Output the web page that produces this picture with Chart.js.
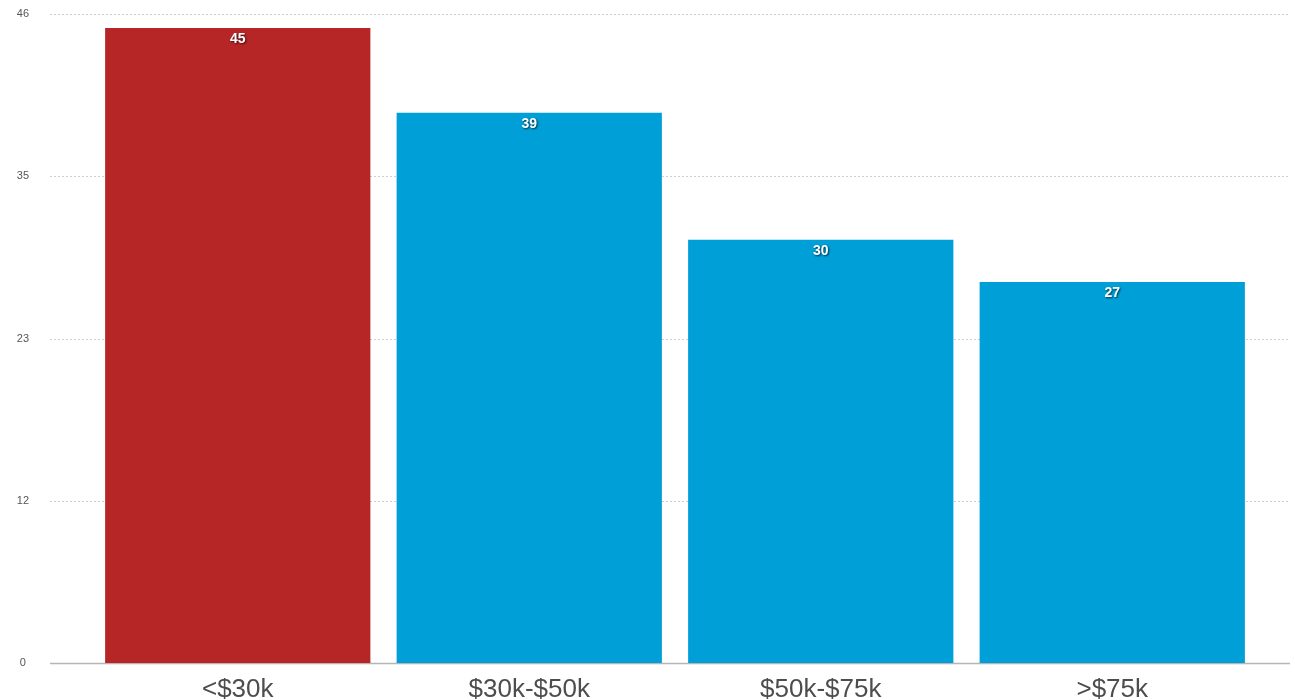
<!DOCTYPE html>
<html>
<head>
<meta charset="utf-8">
<script src="https://cdn.jsdelivr.net/npm/chart.js@4"></script>
<style>
  html, body { margin: 0; padding: 0; background: #fff; }
  #wrap { width: 1295px; height: 700px; position: relative; }
</style>
</head>
<body>
<div id="wrap"><canvas id="chart"></canvas></div>
<script>
// data
var categories = ['<$30k', '$30k-$50k', '$50k-$75k', '>$75k'];
var values = [45, 39, 30, 27];
var barColors = ['#B72626', '#009FD8', '#009FD8', '#009FD8'];
var yTicks = [0, 11.5, 23, 34.5, 46];
var yTickLabels = ['0', '12', '23', '35', '46'];

// dotted grid lines running the full width
var gridPlugin = {
  id: 'fullGrid',
  beforeDatasetsDraw: function(chart) {
    var c = chart.ctx;
    var y = chart.scales.y;
    c.save();
    yTicks.forEach(function(v) {
      var py = Math.round(y.getPixelForValue(v)) + 0.5;
      c.beginPath();
      if (v === 0) {
        c.setLineDash([]);
        c.strokeStyle = '#b5b5b5';
        c.lineWidth = 1.5;
      } else {
        c.setLineDash([2, 2]);
        c.strokeStyle = '#cfcfcf';
        c.lineWidth = 1;
      }
      c.moveTo(50, py);
      c.lineTo(1290, py);
      c.stroke();
    });
    c.restore();
  }
};

// value labels just inside the top of each bar
var valuePlugin = {
  id: 'valueLabels',
  afterDatasetsDraw: function(chart) {
    var c = chart.ctx;
    var meta = chart.getDatasetMeta(0);
    c.save();
    c.font = 'bold 14px "Liberation Sans", Arial, sans-serif';
    c.textAlign = 'center';
    c.textBaseline = 'middle';
    c.fillStyle = '#ffffff';
    c.shadowColor = 'rgba(0, 0, 0, 0.7)';
    c.shadowBlur = 2;
    c.shadowOffsetX = 1;
    c.shadowOffsetY = 1;
    meta.data.forEach(function(bar, i) {
      c.fillText(String(values[i]), bar.x, bar.y + 11);
    });
    c.restore();
  }
};

new Chart(document.getElementById('chart').getContext('2d'), {
  type: 'bar',
  data: {
    labels: categories,
    datasets: [{
      data: values,
      backgroundColor: barColors,
      borderWidth: 0,
      barPercentage: 0.91,
      categoryPercentage: 1.0
    }]
  },
  options: {
    responsive: true,
    maintainAspectRatio: false,
    animation: false,
    layout: { padding: { top: 14, right: 37, bottom: 1, left: 0 } },
    plugins: {
      legend: { display: false },
      tooltip: { enabled: false }
    },
    scales: {
      x: {
        grid: { display: false, drawTicks: false },
        border: { display: false },
        afterFit: function(axis) { axis.height = 36; },
        ticks: {
          maxRotation: 0,
          minRotation: 0,
          autoSkip: false,
          color: '#4d4d4d',
          padding: 11,
          font: { size: 26, family: '"Liberation Sans", Arial, sans-serif' }
        }
      },
      y: {
        min: 0,
        max: 46,
        grid: { display: false, drawTicks: false },
        border: { display: false },
        afterBuildTicks: function(axis) {
          axis.ticks = yTicks.map(function(v) { return { value: v }; });
        },
        afterFit: function(axis) {
          axis.width = 92;
          axis.paddingTop = 0;
          axis.paddingBottom = 0;
        },
        ticks: {
          crossAlign: 'center',
          padding: 63,
          color: '#555',
          font: { size: 11, family: '"Liberation Sans", Arial, sans-serif' },
          callback: function(v) {
            var i = yTicks.indexOf(v);
            return i >= 0 ? yTickLabels[i] : '';
          }
        }
      }
    }
  },
  plugins: [gridPlugin, valuePlugin]
});
</script>
</body>
</html>
